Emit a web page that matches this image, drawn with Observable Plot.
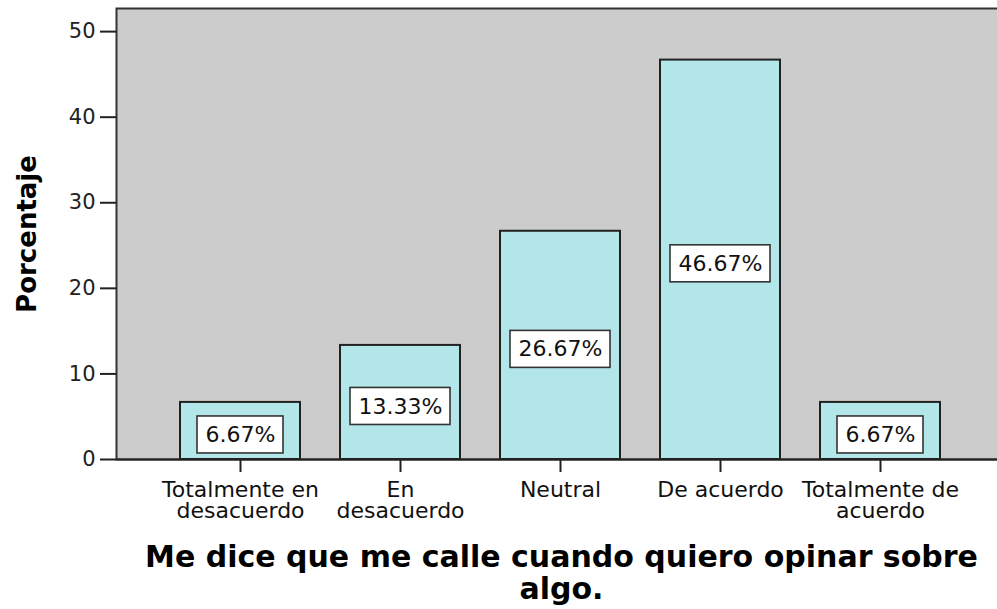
<!DOCTYPE html>
<html>
<head>
<meta charset="utf-8">
<script src="https://cdn.jsdelivr.net/npm/d3@7"></script>
<script src="https://cdn.jsdelivr.net/npm/@observablehq/plot@0.6"></script>
<style>
  html, body { margin: 0; padding: 0; background: white; overflow: hidden; }
</style>
</head>
<body>
<div id="chart"></div>
<script>
const categories = ["Totalmente en desacuerdo", "En desacuerdo", "Neutral", "De acuerdo", "Totalmente de acuerdo"];
const tickLabels = ["Totalmente en\ndesacuerdo", "En\ndesacuerdo", "Neutral", "De acuerdo", "Totalmente de\nacuerdo"];
const values = [6.67, 13.33, 26.67, 46.67, 6.67];
const valueLabels = ["6.67%", "13.33%", "26.67%", "46.67%", "6.67%"];
const yTicks = [0, 10, 20, 30, 40, 50];
const yMax = 52.7;
const yTitle = "Porcentaje";
const titleLines = ["Me dice que me calle cuando quiero opinar sobre", "algo."];

const data = categories.map((c, i) => ({category: c, value: values[i], label: valueLabels[i], tick: tickLabels[i]}));

const chart = Plot.plot({
  width: 997,
  height: 609,
  marginLeft: 116,
  marginRight: -3,
  marginTop: 8,
  marginBottom: 150,
  style: {fontFamily: "DejaVu Sans", background: "white", color: "#111"},
  x: {domain: categories, range: [140, 980], padding: 0.25},
  y: {domain: [0, yMax]},
  marks: [
    Plot.frame({fill: "#cccccc", stroke: "#333", strokeWidth: 2}),
    Plot.barY(data, {x: "category", y: "value", fill: "#b3e6e8", stroke: "#222", strokeWidth: 2}),
    Plot.ruleY([0], {stroke: "#222", strokeWidth: 2}),
    Plot.barY(data, {filter: d => d.label.length === 6, x: "category", y1: d => d.value / 2, y2: d => d.value / 2,
      insetTop: -18.5, insetBottom: -18.5, insetLeft: 10, insetRight: 10, dy: 4,
      fill: "white", stroke: "#333", strokeWidth: 1.6}),
    Plot.barY(data, {filter: d => d.label.length === 5, x: "category", y1: d => d.value / 2, y2: d => d.value / 2,
      insetTop: -18.5, insetBottom: -18.5, insetLeft: 17, insetRight: 17, dy: 4,
      fill: "white", stroke: "#333", strokeWidth: 1.6}),
    Plot.text(data, {x: "category", y: d => d.value / 2, text: "label", fontSize: 22, dy: 4, fill: "#111"}),
    Plot.axisY(yTicks, {tickSize: 16, tickPadding: 5, fontSize: 21, stroke: "#222", strokeWidth: 2, fill: "#222", label: null}),
    Plot.axisX({tickSize: 13, tickPadding: 9, fontSize: 22, lineHeight: 0.98, stroke: "#222", strokeWidth: 2, fill: "#111",
      tickFormat: d => tickLabels[categories.indexOf(d)], label: null}),
    Plot.text([yTitle], {frameAnchor: "left", textAnchor: "middle", dx: -89, rotate: -90, fontSize: 26, fontWeight: "bold", fill: "#000"}),
    Plot.text([titleLines[0]], {frameAnchor: "bottom", dx: 3, dy: 107, fontSize: 30, fontWeight: "bold", fill: "#000"}),
    Plot.text([titleLines[1]], {frameAnchor: "bottom", dx: 3, dy: 139, fontSize: 30, fontWeight: "bold", fill: "#000"})
  ]
});
document.getElementById("chart").appendChild(chart);
</script>
</body>
</html>
